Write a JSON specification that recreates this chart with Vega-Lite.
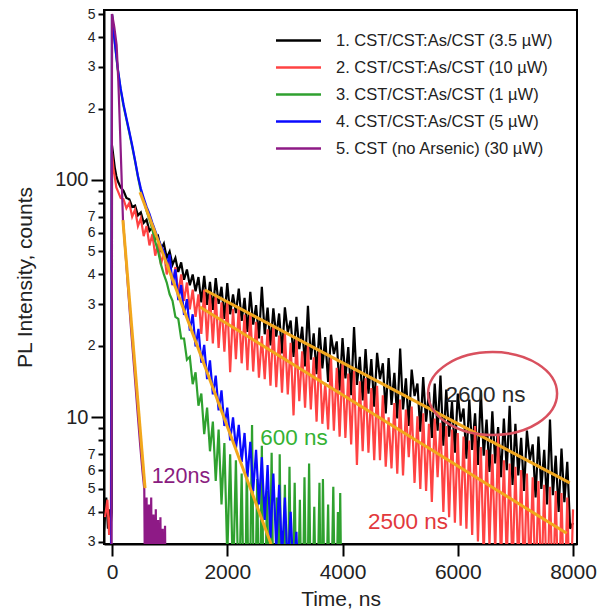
{
  "$schema": "https://vega.github.io/schema/vega-lite/v6.json",
  "autosize": "none",
  "padding": {"left": 104, "top": 10, "right": 23, "bottom": 69},
  "width": 473,
  "height": 534,
  "background": "white",
  "config": {
    "view": {"stroke": "#000000", "strokeWidth": 2},
    "font": "Liberation Sans"
  },
  "datasets": {
    "names": [
      {"k": 1, "name": "1. CST/CST:As/CST (3.5 µW)"},
      {"k": 2, "name": "2. CST/CST:As/CST (10 µW)"},
      {"k": 3, "name": "3. CST/CST:As/CST (1 µW)"},
      {"k": 4, "name": "4. CST/CST:As/CST (5 µW)"},
      {"k": 5, "name": "5. CST (no Arsenic) (30 µW)"}
    ],
    "curves": [
      {"k":1,"t":-140,"v":3.3},{"k":1,"t":-100,"v":4.6},{"k":1,"t":-70,"v":3.4},{"k":1,"t":-40,"v":4.1},{"k":1,"t":-20,"v":3.6},{"k":1,"t":-5,"v":4.0},
      {"k":1,"t":0,"v":140},{"k":1,"t":25,"v":125},{"k":1,"t":50,"v":112},{"k":1,"t":75,"v":104},{"k":1,"t":100,"v":99},{"k":1,"t":150,"v":93},{"k":1,"t":200,"v":90},{"k":1,"t":250,"v":84},{"k":1,"t":300,"v":83},{"k":1,"t":350,"v":77},{"k":1,"t":400,"v":78},{"k":1,"t":450,"v":71},{"k":1,"t":500,"v":73},{"k":1,"t":550,"v":66},{"k":1,"t":600,"v":68},{"k":1,"t":650,"v":61},{"k":1,"t":700,"v":63},{"k":1,"t":750,"v":56},{"k":1,"t":800,"v":58},{"k":1,"t":850,"v":51},{"k":1,"t":900,"v":54},{"k":1,"t":950,"v":47},{"k":1,"t":1000,"v":50},{"k":1,"t":1050,"v":44},{"k":1,"t":1100,"v":47},{"k":1,"t":1150,"v":41},{"k":1,"t":1200,"v":45},{"k":1,"t":1250,"v":38},{"k":1,"t":1300,"v":42},{"k":1,"t":1350,"v":36},{"k":1,"t":1400,"v":40},{"k":1,"t":1450,"v":34},{"k":1,"t":1500,"v":39},
      {"k":1,"t":1550,"v":30.5},{"k":1,"t":1600,"v":39.5},{"k":1,"t":1650,"v":29.8},{"k":1,"t":1700,"v":37.2},{"k":1,"t":1750,"v":28.4},{"k":1,"t":1800,"v":38.6},{"k":1,"t":1850,"v":30.1},{"k":1,"t":1900,"v":35.5},{"k":1,"t":1950,"v":26.0},{"k":1,"t":2000,"v":36.8},{"k":1,"t":2050,"v":27.2},{"k":1,"t":2100,"v":33.0},{"k":1,"t":2150,"v":27.5},{"k":1,"t":2200,"v":34.9},{"k":1,"t":2250,"v":25.5},{"k":1,"t":2300,"v":31.9},{"k":1,"t":2350,"v":22.9},{"k":1,"t":2400,"v":33.8},{"k":1,"t":2450,"v":24.6},{"k":1,"t":2500,"v":29.7},{"k":1,"t":2550,"v":21.5},{"k":1,"t":2600,"v":35.5},{"k":1,"t":2650,"v":22.4},{"k":1,"t":2700,"v":29.0},{"k":1,"t":2750,"v":20.1},{"k":1,"t":2800,"v":28.8},{"k":1,"t":2850,"v":21.9},{"k":1,"t":2900,"v":27.4},{"k":1,"t":2950,"v":18.6},{"k":1,"t":3000,"v":29.1},{"k":1,"t":3050,"v":22.8},{"k":1,"t":3100,"v":25.6},{"k":1,"t":3150,"v":18.0},{"k":1,"t":3200,"v":26.5},{"k":1,"t":3250,"v":19.4},{"k":1,"t":3300,"v":24.1},{"k":1,"t":3350,"v":16.4},{"k":1,"t":3400,"v":29.5},{"k":1,"t":3450,"v":17.5},{"k":1,"t":3500,"v":22.6},
      {"k":1,"t":3550,"v":15.2},{"k":1,"t":3600,"v":23.9},{"k":1,"t":3650,"v":16.1},{"k":1,"t":3700,"v":21.8},{"k":1,"t":3750,"v":14.1},{"k":1,"t":3800,"v":22.3},{"k":1,"t":3850,"v":18.5},{"k":1,"t":3900,"v":20.9},{"k":1,"t":3950,"v":13.0},{"k":1,"t":4000,"v":21.6},{"k":1,"t":4050,"v":14.6},{"k":1,"t":4100,"v":19.8},{"k":1,"t":4150,"v":12.4},{"k":1,"t":4200,"v":24.0},{"k":1,"t":4250,"v":13.7},{"k":1,"t":4300,"v":18.0},{"k":1,"t":4350,"v":11.8},{"k":1,"t":4400,"v":19.4},{"k":1,"t":4450,"v":12.6},{"k":1,"t":4500,"v":17.6},{"k":1,"t":4550,"v":11.1},{"k":1,"t":4600,"v":18.7},{"k":1,"t":4650,"v":14.5},{"k":1,"t":4700,"v":16.9},{"k":1,"t":4750,"v":10.4},{"k":1,"t":4800,"v":17.8},{"k":1,"t":4850,"v":11.3},{"k":1,"t":4900,"v":15.4},{"k":1,"t":4950,"v":9.9},{"k":1,"t":5000,"v":19.5},{"k":1,"t":5050,"v":10.8},{"k":1,"t":5100,"v":14.6},{"k":1,"t":5150,"v":9.2},{"k":1,"t":5200,"v":15.9},{"k":1,"t":5250,"v":12.3},{"k":1,"t":5300,"v":13.9},{"k":1,"t":5350,"v":8.7},{"k":1,"t":5400,"v":14.8},{"k":1,"t":5450,"v":9.6},{"k":1,"t":5500,"v":12.8},{"k":1,"t":5550,"v":8.2},{"k":1,"t":5600,"v":13.9},{"k":1,"t":5650,"v":8.8},{"k":1,"t":5700,"v":15.0},{"k":1,"t":5750,"v":7.6},{"k":1,"t":5800,"v":13.1},{"k":1,"t":5850,"v":8.3},{"k":1,"t":5900,"v":11.6},{"k":1,"t":5950,"v":7.1},{"k":1,"t":6000,"v":12.6},{"k":1,"t":6050,"v":9.6},{"k":1,"t":6100,"v":10.9},{"k":1,"t":6150,"v":6.7},{"k":1,"t":6200,"v":11.9},{"k":1,"t":6250,"v":7.3},{"k":1,"t":6300,"v":10.4},{"k":1,"t":6350,"v":6.3},{"k":1,"t":6400,"v":13.0},{"k":1,"t":6450,"v":6.9},{"k":1,"t":6500,"v":9.8},{"k":1,"t":6550,"v":5.9},{"k":1,"t":6600,"v":10.6},{"k":1,"t":6650,"v":6.4},{"k":1,"t":6700,"v":9.1},{"k":1,"t":6750,"v":5.6},{"k":1,"t":6800,"v":9.9},{"k":1,"t":6850,"v":6.0},{"k":1,"t":6900,"v":11.2},{"k":1,"t":6950,"v":5.2},{"k":1,"t":7000,"v":9.4},{"k":1,"t":7050,"v":5.7},{"k":1,"t":7100,"v":8.2},{"k":1,"t":7150,"v":4.9},{"k":1,"t":7200,"v":8.8},{"k":1,"t":7250,"v":6.6},{"k":1,"t":7300,"v":7.7},{"k":1,"t":7350,"v":4.6},{"k":1,"t":7400,"v":8.3},{"k":1,"t":7450,"v":5.0},{"k":1,"t":7500,"v":7.3},{"k":1,"t":7550,"v":4.3},{"k":1,"t":7600,"v":9.8},{"k":1,"t":7650,"v":4.7},{"k":1,"t":7700,"v":6.9},{"k":1,"t":7750,"v":4.0},{"k":1,"t":7800,"v":7.4},{"k":1,"t":7850,"v":4.4},{"k":1,"t":7900,"v":6.5},{"k":1,"t":7950,"v":3.4},{"k":1,"t":8000,"v":3.6},

      {"k":2,"t":-120,"v":3.8},{"k":2,"t":-80,"v":4.5},{"k":2,"t":-50,"v":3.2},{"k":2,"t":-20,"v":3.9},
      {"k":2,"t":0,"v":130},{"k":2,"t":25,"v":112},{"k":2,"t":50,"v":102},{"k":2,"t":75,"v":93},{"k":2,"t":100,"v":90},{"k":2,"t":150,"v":84},{"k":2,"t":200,"v":83},{"k":2,"t":250,"v":76},{"k":2,"t":300,"v":80},{"k":2,"t":350,"v":70},{"k":2,"t":400,"v":75},{"k":2,"t":450,"v":64},{"k":2,"t":500,"v":69},{"k":2,"t":550,"v":58},{"k":2,"t":600,"v":64},{"k":2,"t":650,"v":53},{"k":2,"t":700,"v":59},{"k":2,"t":750,"v":48},{"k":2,"t":800,"v":54},{"k":2,"t":850,"v":44},{"k":2,"t":900,"v":50},{"k":2,"t":950,"v":40},{"k":2,"t":1000,"v":46},{"k":2,"t":1050,"v":36},{"k":2,"t":1100,"v":43},{"k":2,"t":1150,"v":33},{"k":2,"t":1200,"v":40},{"k":2,"t":1250,"v":31},{"k":2,"t":1300,"v":37},{"k":2,"t":1350,"v":28.5},{"k":2,"t":1400,"v":34.5},{"k":2,"t":1450,"v":26.5},{"k":2,"t":1500,"v":33},
      {"k":2,"t":1550,"v":22.5},{"k":2,"t":1600,"v":34.5},{"k":2,"t":1650,"v":21.0},{"k":2,"t":1700,"v":33.0},{"k":2,"t":1750,"v":20.5},{"k":2,"t":1800,"v":32.8},{"k":2,"t":1850,"v":19.6},{"k":2,"t":1900,"v":30.5},{"k":2,"t":1950,"v":18.9},{"k":2,"t":2000,"v":31.0},{"k":2,"t":2050,"v":15.5},{"k":2,"t":2100,"v":28.7},{"k":2,"t":2150,"v":17.6},{"k":2,"t":2200,"v":29.2},{"k":2,"t":2250,"v":16.9},{"k":2,"t":2300,"v":27.1},{"k":2,"t":2350,"v":15.8},{"k":2,"t":2400,"v":27.6},{"k":2,"t":2450,"v":15.6},{"k":2,"t":2500,"v":25.3},{"k":2,"t":2550,"v":14.7},{"k":2,"t":2600,"v":22.0},{"k":2,"t":2650,"v":14.5},{"k":2,"t":2700,"v":23.5},{"k":2,"t":2750,"v":13.6},{"k":2,"t":2800,"v":24.3},{"k":2,"t":2850,"v":13.4},{"k":2,"t":2900,"v":22.1},{"k":2,"t":2950,"v":12.7},{"k":2,"t":3000,"v":22.8},{"k":2,"t":3050,"v":12.5},{"k":2,"t":3100,"v":20.6},{"k":2,"t":3150,"v":10.2},{"k":2,"t":3200,"v":21.4},{"k":2,"t":3250,"v":11.7},{"k":2,"t":3300,"v":19.0},{"k":2,"t":3350,"v":11.0},{"k":2,"t":3400,"v":20.0},{"k":2,"t":3450,"v":10.8},{"k":2,"t":3500,"v":17.9},
      {"k":2,"t":3550,"v":9.6},{"k":2,"t":3600,"v":19.2},{"k":2,"t":3650,"v":9.4},{"k":2,"t":3700,"v":14.0},{"k":2,"t":3750,"v":8.9},{"k":2,"t":3800,"v":18.0},{"k":2,"t":3850,"v":8.8},{"k":2,"t":3900,"v":16.2},{"k":2,"t":3950,"v":8.3},{"k":2,"t":4000,"v":16.8},{"k":2,"t":4050,"v":8.2},{"k":2,"t":4100,"v":15.3},{"k":2,"t":4150,"v":7.7},{"k":2,"t":4200,"v":15.7},{"k":2,"t":4250,"v":6.3},{"k":2,"t":4300,"v":14.2},{"k":2,"t":4350,"v":7.2},{"k":2,"t":4400,"v":14.6},{"k":2,"t":4450,"v":7.1},{"k":2,"t":4500,"v":13.3},{"k":2,"t":4550,"v":6.6},{"k":2,"t":4600,"v":13.6},{"k":2,"t":4650,"v":6.6},{"k":2,"t":4700,"v":12.4},{"k":2,"t":4750,"v":6.2},{"k":2,"t":4800,"v":10.0},{"k":2,"t":4850,"v":6.1},{"k":2,"t":4900,"v":11.5},{"k":2,"t":4950,"v":5.8},{"k":2,"t":5000,"v":11.9},{"k":2,"t":5050,"v":5.7},{"k":2,"t":5100,"v":10.8},{"k":2,"t":5150,"v":6.8},{"k":2,"t":5200,"v":11.1},{"k":2,"t":5250,"v":5.3},{"k":2,"t":5300,"v":10.1},{"k":2,"t":5350,"v":5.0},{"k":2,"t":5400,"v":10.4},{"k":2,"t":5450,"v":4.9},{"k":2,"t":5500,"v":9.4},
      {"k":2,"t":5550,"v":4.4},{"k":2,"t":5600,"v":9.9},{"k":2,"t":5650,"v":5.6},{"k":2,"t":5700,"v":9.5},{"k":2,"t":5750,"v":4.0},{"k":2,"t":5800,"v":9.2},{"k":2,"t":5850,"v":3.8},{"k":2,"t":5900,"v":8.9},{"k":2,"t":5950,"v":3.6},{"k":2,"t":6000,"v":8.6},{"k":2,"t":6050,"v":3.5},{"k":2,"t":6100,"v":8.3},{"k":2,"t":6150,"v":3.4},{"k":2,"t":6200,"v":8.0},{"k":2,"t":6250,"v":3.2},{"k":2,"t":6300,"v":9.2},{"k":2,"t":6350,"v":3.0},{"k":2,"t":6400,"v":7.5},{"k":2,"t":6450,"v":2.6},{"k":2,"t":6500,"v":7.3},{"k":2,"t":6550,"v":2.9},{"k":2,"t":6600,"v":7.0},{"k":2,"t":6650,"v":2.7},{"k":2,"t":6700,"v":8.4},{"k":2,"t":6750,"v":2.4},{"k":2,"t":6800,"v":6.6},{"k":2,"t":6850,"v":2.5},{"k":2,"t":6900,"v":6.4},{"k":2,"t":6950,"v":2.2},{"k":2,"t":7000,"v":6.2},{"k":2,"t":7050,"v":2.3},{"k":2,"t":7100,"v":6.0},{"k":2,"t":7150,"v":2.0},{"k":2,"t":7200,"v":5.8},{"k":2,"t":7250,"v":2.1},{"k":2,"t":7300,"v":5.6},{"k":2,"t":7350,"v":1.8},{"k":2,"t":7400,"v":5.4},{"k":2,"t":7450,"v":1.9},{"k":2,"t":7500,"v":5.2},{"k":2,"t":7550,"v":1.6},{"k":2,"t":7600,"v":5.1},{"k":2,"t":7650,"v":1.7},{"k":2,"t":7700,"v":4.9},{"k":2,"t":7750,"v":1.5},{"k":2,"t":7800,"v":4.8},{"k":2,"t":7850,"v":1.5},{"k":2,"t":7900,"v":4.6},{"k":2,"t":7950,"v":1.4},{"k":2,"t":8000,"v":4.1},

      {"k":3,"t":-20,"v":1},{"k":3,"t":0,"v":500},{"k":3,"t":25,"v":430},{"k":3,"t":50,"v":375},{"k":3,"t":75,"v":330},{"k":3,"t":100,"v":292},{"k":3,"t":150,"v":240},{"k":3,"t":200,"v":205},{"k":3,"t":250,"v":180},{"k":3,"t":300,"v":158},{"k":3,"t":350,"v":138},{"k":3,"t":400,"v":120},{"k":3,"t":450,"v":103},{"k":3,"t":500,"v":90},{"k":3,"t":550,"v":82},{"k":3,"t":600,"v":74},{"k":3,"t":650,"v":68},{"k":3,"t":700,"v":62},{"k":3,"t":750,"v":55},{"k":3,"t":800,"v":50},{"k":3,"t":850,"v":44},{"k":3,"t":900,"v":40},{"k":3,"t":950,"v":37},{"k":3,"t":1000,"v":33},{"k":3,"t":1050,"v":31},{"k":3,"t":1100,"v":26.5},{"k":3,"t":1150,"v":26},{"k":3,"t":1200,"v":21.5},{"k":3,"t":1250,"v":21.5},{"k":3,"t":1300,"v":17.5},{"k":3,"t":1350,"v":18},{"k":3,"t":1400,"v":13.8},{"k":3,"t":1450,"v":15.5},{"k":3,"t":1500,"v":11.2},{"k":3,"t":1550,"v":12.6},{"k":3,"t":1600,"v":8.5},{"k":3,"t":1650,"v":11.0},{"k":3,"t":1700,"v":7.2},{"k":3,"t":1750,"v":9.6},{"k":3,"t":1800,"v":5.4},{"k":3,"t":1850,"v":8.9},{"k":3,"t":1900,"v":4.3},{"k":3,"t":1950,"v":7.8},{"k":3,"t":2000,"v":2.6},{"k":3,"t":2050,"v":7.0},{"k":3,"t":2100,"v":2.0},{"k":3,"t":2150,"v":6.6},{"k":3,"t":2200,"v":1.5},{"k":3,"t":2250,"v":5.8},{"k":3,"t":2300,"v":1},{"k":3,"t":2340,"v":6.4},{"k":3,"t":2380,"v":1},{"k":3,"t":2430,"v":9.3},{"k":3,"t":2470,"v":1},{"k":3,"t":2520,"v":5.5},{"k":3,"t":2560,"v":1},{"k":3,"t":2600,"v":7.6},{"k":3,"t":2640,"v":1},{"k":3,"t":2690,"v":4.9},{"k":3,"t":2730,"v":1.5},{"k":3,"t":2770,"v":7.1},{"k":3,"t":2810,"v":1},{"k":3,"t":2860,"v":4.6},{"k":3,"t":2885,"v":1},{"k":3,"t":2910,"v":7.0},{"k":3,"t":2950,"v":1},{"k":3,"t":3000,"v":5.2},{"k":3,"t":3040,"v":1},{"k":3,"t":3080,"v":6.2},{"k":3,"t":3120,"v":1},{"k":3,"t":3170,"v":5.3},{"k":3,"t":3210,"v":1},{"k":3,"t":3260,"v":4.5},{"k":3,"t":3300,"v":1},{"k":3,"t":3340,"v":5.6},{"k":3,"t":3380,"v":1},{"k":3,"t":3420,"v":6.4},{"k":3,"t":3460,"v":1},{"k":3,"t":3510,"v":4.2},{"k":3,"t":3550,"v":1},{"k":3,"t":3600,"v":5.3},{"k":3,"t":3630,"v":1},{"k":3,"t":3660,"v":5.5},{"k":3,"t":3700,"v":1},{"k":3,"t":3750,"v":4.3},{"k":3,"t":3790,"v":1},{"k":3,"t":3840,"v":5.1},{"k":3,"t":3880,"v":1},{"k":3,"t":3920,"v":4.0},{"k":3,"t":3940,"v":1},{"k":3,"t":3960,"v":4.8},{"k":3,"t":3990,"v":1},

      {"k":4,"t":-20,"v":1},{"k":4,"t":0,"v":500},{"k":4,"t":25,"v":430},{"k":4,"t":50,"v":378},{"k":4,"t":75,"v":333},{"k":4,"t":100,"v":295},{"k":4,"t":150,"v":243},{"k":4,"t":200,"v":208},{"k":4,"t":250,"v":182},{"k":4,"t":300,"v":160},{"k":4,"t":350,"v":140},{"k":4,"t":400,"v":121},{"k":4,"t":450,"v":104},{"k":4,"t":500,"v":92},{"k":4,"t":550,"v":84},{"k":4,"t":600,"v":77},{"k":4,"t":650,"v":72},{"k":4,"t":700,"v":66},{"k":4,"t":750,"v":61},{"k":4,"t":800,"v":56.5},{"k":4,"t":850,"v":53},{"k":4,"t":900,"v":50},{"k":4,"t":950,"v":43.5},{"k":4,"t":1000,"v":48.5},{"k":4,"t":1050,"v":36.2},{"k":4,"t":1100,"v":42.0},{"k":4,"t":1150,"v":31.2},{"k":4,"t":1200,"v":36.1},{"k":4,"t":1250,"v":27.0},{"k":4,"t":1300,"v":31.5},{"k":4,"t":1350,"v":23.2},{"k":4,"t":1400,"v":27.2},{"k":4,"t":1450,"v":19.9},{"k":4,"t":1500,"v":23.6},{"k":4,"t":1550,"v":17.0},{"k":4,"t":1600,"v":20.2},{"k":4,"t":1650,"v":14.5},{"k":4,"t":1700,"v":17.4},{"k":4,"t":1750,"v":12.5},{"k":4,"t":1800,"v":15.0},{"k":4,"t":1850,"v":10.7},{"k":4,"t":1900,"v":13.0},{"k":4,"t":1950,"v":9.2},{"k":4,"t":2000,"v":11.0},{"k":4,"t":2050,"v":8.0},{"k":4,"t":2100,"v":10.0},{"k":4,"t":2150,"v":7.4},{"k":4,"t":2200,"v":9.3},{"k":4,"t":2250,"v":6.5},{"k":4,"t":2300,"v":8.6},{"k":4,"t":2350,"v":5.6},{"k":4,"t":2400,"v":7.9},{"k":4,"t":2450,"v":4.9},{"k":4,"t":2500,"v":7.3},{"k":4,"t":2550,"v":4.3},{"k":4,"t":2600,"v":6.8},{"k":4,"t":2650,"v":3.7},{"k":4,"t":2700,"v":6.3},{"k":4,"t":2750,"v":3.1},{"k":4,"t":2800,"v":5.8},{"k":4,"t":2850,"v":2.8},{"k":4,"t":2900,"v":5.2},{"k":4,"t":2950,"v":2.6},{"k":4,"t":3000,"v":4.6},{"k":4,"t":3050,"v":2.3},{"k":4,"t":3100,"v":4.0},{"k":4,"t":3150,"v":2.1},{"k":4,"t":3200,"v":3.3},{"k":4,"t":3250,"v":1.5},

      {"k":5,"t":-140,"v":1},{"k":5,"t":-10,"v":1},{"k":5,"t":0,"v":500},{"k":5,"t":40,"v":440},{"k":5,"t":80,"v":370},{"k":5,"t":110,"v":260},{"k":5,"t":140,"v":160},{"k":5,"t":165,"v":105},{"k":5,"t":190,"v":68},{"k":5,"t":240,"v":47},{"k":5,"t":290,"v":32},{"k":5,"t":340,"v":22},{"k":5,"t":390,"v":15.5},{"k":5,"t":440,"v":10.8},{"k":5,"t":490,"v":7.6},{"k":5,"t":530,"v":5.9},{"k":5,"t":560,"v":5.0},{"k":5,"t":580,"v":1},{"k":5,"t":600,"v":4.6},{"k":5,"t":620,"v":1},{"k":5,"t":640,"v":4.3},{"k":5,"t":660,"v":1.5},{"k":5,"t":680,"v":4.6},{"k":5,"t":700,"v":1},{"k":5,"t":720,"v":3.9},{"k":5,"t":740,"v":1},{"k":5,"t":760,"v":4.1},{"k":5,"t":780,"v":1},{"k":5,"t":800,"v":3.7},{"k":5,"t":820,"v":1},{"k":5,"t":840,"v":3.8},{"k":5,"t":860,"v":1},{"k":5,"t":880,"v":3.4},{"k":5,"t":900,"v":1},{"k":5,"t":920,"v":3.5},{"k":5,"t":940,"v":1}
    ],
    "fits": [
      {"f": "a", "t": 1613, "v": 34.4}, {"f": "a", "t": 7943, "v": 5.3},
      {"f": "b", "t": 1526, "v": 29.2}, {"f": "b", "t": 7890, "v": 3.25},
      {"f": "c", "t": 486, "v": 88.9}, {"f": "c", "t": 2760, "v": 2.93},
      {"f": "d", "t": 189, "v": 67.8}, {"f": "d", "t": 573, "v": 5.04}
    ]
  },
  "layer": [
    {
      "data": {"name": "curves"},
      "transform": [
        {"lookup": "k", "from": {"data": {"name": "names"}, "key": "k", "fields": ["name"]}}
      ],
      "mark": {"type": "line", "strokeWidth": 2.2, "clip": true},
      "encoding": {
        "x": {
          "field": "t", "type": "quantitative",
          "scale": {"domain": [-139, 8069], "nice": false, "zero": false},
          "axis": {
            "title": "Time, ns",
            "values": [0, 2000, 4000, 6000, 8000],
            "format": "d",
            "grid": false,
            "domainColor": "#000000", "domainWidth": 2,
            "tickColor": "#000000", "tickWidth": 2, "tickSize": 12,
            "labelFont": "Liberation Sans", "labelFontSize": 21, "labelColor": "#222222", "labelPadding": 5,
            "titleFont": "Liberation Sans", "titleFontSize": 21, "titleFontWeight": "normal", "titleColor": "#222222",
            "titleBaseline": "alphabetic", "titleY": 61
          }
        },
        "y": {
          "field": "v", "type": "quantitative",
          "scale": {"type": "log", "domain": [2.93, 520], "nice": false},
          "axis": {
            "title": "PL Intensity, counts",
            "values": [3, 4, 5, 6, 7, 8, 9, 10, 20, 30, 40, 50, 60, 70, 80, 90, 100, 200, 300, 400, 500],
            "labelExpr": "indexof([8,9,80,90], datum.value) >= 0 ? '' : (datum.value == 10 ? '10' : (datum.value == 100 ? '100' : format(datum.value / pow(10, floor(log(datum.value) / LN10 + 1e-9)), 'd')))",
            "labelOverlap": false,
            "grid": false,
            "domainColor": "#000000", "domainWidth": 2,
            "tickColor": "#000000", "tickWidth": 2,
            "tickSize": {"condition": {"test": "datum.value == 10 || datum.value == 100", "value": 13}, "value": 6},
            "labelFontSize": {"condition": {"test": "datum.value == 10 || datum.value == 100", "value": 20}, "value": 14},
            "labelPadding": 3,
            "labelFont": "Liberation Sans", "labelColor": "#222222",
            "titleFont": "Liberation Sans", "titleFontSize": 21, "titleFontWeight": "normal", "titleColor": "#222222",
            "titleBaseline": "alphabetic", "titleX": -73, "titleY": 267, "titleAngle": 270
          }
        },
        "color": {
          "field": "name", "type": "nominal",
          "scale": {
            "domain": ["1. CST/CST:As/CST (3.5 µW)", "2. CST/CST:As/CST (10 µW)", "3. CST/CST:As/CST (1 µW)", "4. CST/CST:As/CST (5 µW)", "5. CST (no Arsenic) (30 µW)"],
            "range": ["#000000", "#ff4343", "#2fa12f", "#0a0aff", "#8e1a86"]
          },
          "legend": {
            "title": null,
            "orient": "none", "legendX": 184, "legendY": 20,
            "padding": 0,
            "symbolType": "M -2.5 0 L 2.5 0", "symbolSize": 324, "symbolStrokeWidth": 2.5,
            "labelFont": "Liberation Sans", "labelFontSize": 16.5, "labelColor": "#222222",
            "labelOffset": 27, "rowPadding": 8, "labelLimit": 400
          }
        },
        "detail": {"field": "k", "type": "nominal"}
      }
    },
    {
      "data": {"name": "fits"},
      "mark": {"type": "line", "color": "#f2a71c", "strokeWidth": 3, "clip": true},
      "encoding": {
        "x": {"field": "t", "type": "quantitative"},
        "y": {"field": "v", "type": "quantitative"},
        "detail": {"field": "f", "type": "nominal"}
      }
    },
    {
      "data": {"values": [{"t": 6604, "v": 12.6}]},
      "mark": {"type": "point", "shape": "M -1 0 A 1 0.643 0 1 1 1 0 A 1 0.643 0 1 1 -1 0 Z", "size": 16641, "filled": false, "stroke": "#d9505e", "strokeWidth": 2.5, "opacity": 1},
      "encoding": {
        "x": {"field": "t", "type": "quantitative"},
        "y": {"field": "v", "type": "quantitative"}
      }
    },
    {
      "data": {"values": [{"t": 6482, "v": 11.6, "label": "2600 ns"}]},
      "mark": {"type": "text", "font": "Liberation Sans", "fontSize": 22.5, "color": "#2a2a2a", "align": "center", "baseline": "alphabetic"},
      "encoding": {
        "x": {"field": "t", "type": "quantitative"},
        "y": {"field": "v", "type": "quantitative"},
        "text": {"field": "label"}
      }
    },
    {
      "data": {"values": [{"t": 5137, "v": 3.39, "label": "2500 ns"}]},
      "mark": {"type": "text", "font": "Liberation Sans", "fontSize": 22.5, "color": "#e2383c", "align": "center", "baseline": "alphabetic"},
      "encoding": {
        "x": {"field": "t", "type": "quantitative"},
        "y": {"field": "v", "type": "quantitative"},
        "text": {"field": "label"}
      }
    },
    {
      "data": {"values": [{"t": 3158, "v": 7.65, "label": "600 ns"}]},
      "mark": {"type": "text", "font": "Liberation Sans", "fontSize": 22.5, "color": "#35b234", "align": "center", "baseline": "alphabetic"},
      "encoding": {
        "x": {"field": "t", "type": "quantitative"},
        "y": {"field": "v", "type": "quantitative"},
        "text": {"field": "label"}
      }
    },
    {
      "data": {"values": [{"t": 1196, "v": 5.29, "label": "120ns"}]},
      "mark": {"type": "text", "font": "Liberation Sans", "fontSize": 21.5, "color": "#8a1c80", "align": "center", "baseline": "alphabetic"},
      "encoding": {
        "x": {"field": "t", "type": "quantitative"},
        "y": {"field": "v", "type": "quantitative"},
        "text": {"field": "label"}
      }
    }
  ]
}
